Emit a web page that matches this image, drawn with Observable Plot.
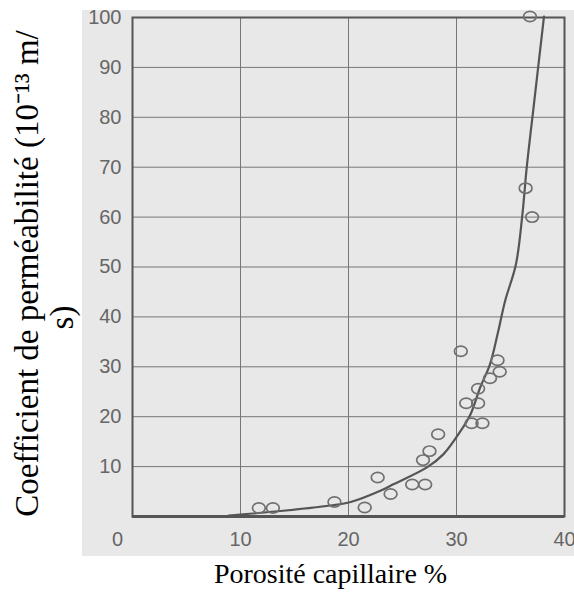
<!DOCTYPE html>
<html>
<head>
<meta charset="utf-8">
<script src="https://cdn.jsdelivr.net/npm/d3@7"></script>
<script src="https://cdn.jsdelivr.net/npm/@observablehq/plot@0.6"></script>
<style>
  body { margin: 0; background: #fff; }
  #wrap { position: relative; width: 574px; height: 592px; overflow: hidden; }
  #scan { position: absolute; left: 82px; top: 10px; width: 492px; height: 546px; background: #e8e8e8; }
  #chart { position: absolute; left: 0; top: 0; }
  #chart svg [aria-label$="tick label"], #chart svg [aria-label$="tick label"] text { font-size: 20px !important; font-family: 'Liberation Sans', Arial, sans-serif !important; }
</style>
</head>
<body>
<div id="wrap"><div id="scan"></div><div id="chart"></div></div>
<script>
// Measured points (porosité capillaire %, perméabilité 10^-13 m/s)
const pointX = [11.7, 13.0, 18.7, 21.5, 22.7, 23.9, 25.9, 27.1, 26.9, 27.5, 28.3, 30.4, 31.4, 32.4, 30.9, 32.0, 32.0, 33.1, 34.0, 33.8, 36.4, 37.0, 36.8];
const pointY = [1.7, 1.7, 2.9, 1.8, 7.8, 4.5, 6.4, 6.4, 11.3, 13.1, 16.5, 33.1, 18.7, 18.7, 22.7, 22.7, 25.6, 27.7, 29.0, 31.3, 65.8, 60.0, 100.2];
// Fitted curve
const curveX = [8.9, 13.7, 18.3, 20.2, 23.0, 24.2, 27.3, 28.8, 30.4, 31.3, 32.2, 33.1, 33.8, 34.5, 35.5, 36.1, 36.5, 37.2, 38.1];
const curveY = [0.2, 1.1, 2.2, 2.9, 5.2, 6.5, 9.9, 12.5, 17.2, 20.5, 25.9, 30.5, 36.5, 43.2, 50.5, 60.5, 69.9, 83.2, 100.2];
// Ticks
const xTicks = [10, 20, 30, 40];
const yTicks = [10, 20, 30, 40, 50, 60, 70, 80, 90, 100];
const xGrid = [10, 20, 30];
const yGrid = [10, 20, 30, 40, 50, 60, 70, 80, 90];
const yTitle1 = "Coefficient de perméabilité (10⁻¹³ m/";
const yTitle2 = "s)";
const xTitle = "Porosité capillaire %";

const points = pointX.map((x, i) => ({x, y: pointY[i]}));
const curve = curveX.map((x, i) => ({x, y: curveY[i]}));

const ellipse = {
  draw(ctx, size) {
    const r = Math.sqrt(size / Math.PI);
    const rx = r * 1.18, ry = r * 0.95, k = 0.5523;
    ctx.moveTo(rx, 0);
    ctx.bezierCurveTo(rx, ry * k, rx * k, ry, 0, ry);
    ctx.bezierCurveTo(-rx * k, ry, -rx, ry * k, -rx, 0);
    ctx.bezierCurveTo(-rx, -ry * k, -rx * k, -ry, 0, -ry);
    ctx.bezierCurveTo(rx * k, -ry, rx, -ry * k, rx, 0);
    ctx.closePath();
  }
};

const tickStyle = {tickSize: 0, fill: "#666", label: null, fontSize: 20};
const serif = "'Liberation Serif', 'Times New Roman', serif";

const chart = Plot.plot({
  width: 574,
  height: 592,
  marginLeft: 132,
  marginRight: 10,
  marginTop: 17,
  marginBottom: 76,
  style: {background: "transparent", overflow: "visible", fontFamily: "'Liberation Sans', Arial, sans-serif"},
  x: {domain: [0, 40]},
  y: {domain: [0, 100]},
  marks: [
    Plot.gridX(xGrid, {stroke: "#777", strokeOpacity: 1, strokeWidth: 1}),
    Plot.gridY(yGrid, {stroke: "#777", strokeOpacity: 1, strokeWidth: 1}),
    Plot.frame({stroke: "#555", strokeWidth: 2}),
    Plot.ruleY([0], {stroke: "#555", strokeWidth: 3}),
    Plot.axisY(yTicks, {...tickStyle, tickPadding: 11}),
    Plot.axisX(xTicks, {...tickStyle, tickPadding: 15}),
    Plot.axisX([0], {...tickStyle, tickPadding: 15, dx: -15}),
    Plot.line(curve, {x: "x", y: "y", curve: "catmull-rom", stroke: "#555", strokeWidth: 2.2}),
    Plot.dot(points, {x: "x", y: "y", r: 5.4, symbol: ellipse, fill: "none", stroke: "#707070", strokeWidth: 1.7}),
    Plot.text([yTitle1], {text: d => d, frameAnchor: "left", rotate: -90, dx: -105.5, dy: 6.5, lineAnchor: "middle", textAnchor: "middle", fontSize: 33, fill: "#000", fontFamily: serif}),
    Plot.text([yTitle2], {text: d => d, frameAnchor: "left", rotate: -90, dx: -70.5, dy: 50.5, lineAnchor: "middle", textAnchor: "middle", fontSize: 33, fill: "#000", fontFamily: serif}),
    Plot.text([xTitle], {text: d => d, frameAnchor: "bottom", dx: -18, dy: 58, lineAnchor: "middle", textAnchor: "middle", fontSize: 28, fill: "#000", fontFamily: serif})
  ]
});
document.getElementById("chart").appendChild(chart);
</script>
</body>
</html>
